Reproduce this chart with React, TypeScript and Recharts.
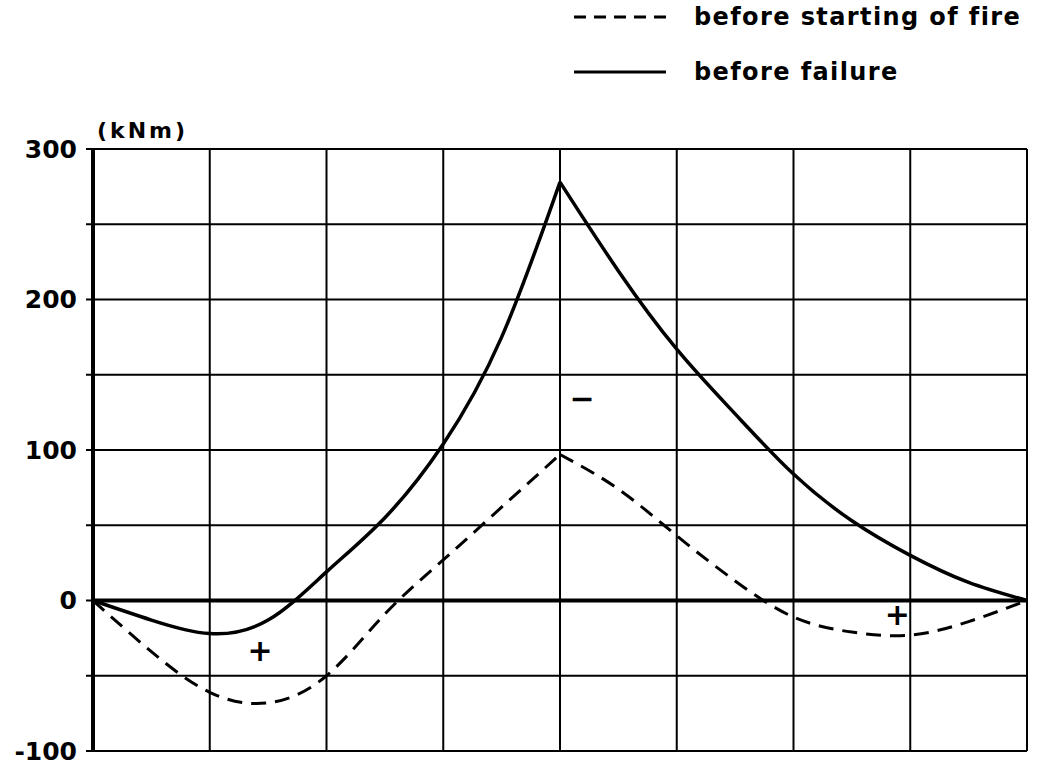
import React from 'react';
import {
  LineChart,
  Line,
  XAxis,
  YAxis,
  CartesianGrid,
  ReferenceLine,
  ReferenceDot,
} from 'recharts';

// span position (grid units along the beam) and moments in kNm
const positions = [0, 0.5, 1, 1.5, 2, 2.5, 3, 3.5, 4, 4.5, 5, 5.5, 6, 6.5, 7, 7.5, 8];
const beforeFailure = [0, -13, -22, -13, 19, 55, 104, 175, 278, 219, 167, 124, 84, 53, 30, 12, 0];
const beforeFire = [0, -34, -61, -68, -50, -9, 27, 62, 97, 74, 43, 13, -11, -21, -23, -14, 0];

const xTicks = [0, 1, 2, 3, 4, 5, 6, 7, 8];
const yTicks = [-100, -50, 0, 50, 100, 150, 200, 250, 300];
const yLabelled = [-100, 0, 100, 200, 300];

const signMarks = [
  { x: 1.43, y: -33, text: '+' },
  { x: 4.19, y: 134, text: '−' },
  { x: 6.89, y: -9, text: '+' },
];

const legendItems = [
  { label: 'before starting of fire', dashed: true },
  { label: 'before failure', dashed: false },
];

const FONT = '"DejaVu Sans", sans-serif';
const PEAK = 8; // index of the middle support (cusp)

const toPoints = (vals: number[], from: number, to: number) =>
  positions.slice(from, to + 1).map((x, i) => ({ x, y: vals[from + i] }));

const failureLeft = toPoints(beforeFailure, 0, PEAK);
const failureRight = toPoints(beforeFailure, PEAK, positions.length - 1);
const fireLeft = toPoints(beforeFire, 0, PEAK);
const fireRight = toPoints(beforeFire, PEAK, positions.length - 1);

function LegendBox() {
  return (
    <svg width={470} height={100} style={{ position: 'absolute', left: 570, top: 0 }}>
      {legendItems.map((item, i) => {
        const y = 17 + i * 55;
        return (
          <g key={item.label}>
            <line
              x1={4}
              x2={96}
              y1={y}
              y2={y}
              stroke="#000"
              strokeWidth={3}
              strokeDasharray={item.dashed ? '12 8' : undefined}
            />
            <text
              x={124}
              y={y + 8}
              fontFamily={FONT}
              fontSize={24}
              fontWeight="bold"
              letterSpacing={1.4}
              fill="#000"
            >
              {item.label}
            </text>
          </g>
        );
      })}
    </svg>
  );
}

export default function App() {
  return (
    <div style={{ position: 'absolute', left: 0, top: 0, width: 1039, height: 771, background: '#fff', fontFamily: FONT }}>
      <LegendBox />
      <div
        style={{
          position: 'absolute',
          left: 97,
          top: 118,
          fontSize: 22,
          fontWeight: 'bold',
          letterSpacing: 3,
          zIndex: 2,
        }}
      >
        (kNm)
      </div>
      <LineChart width={1039} height={771} margin={{ top: 149, right: 12, bottom: 20, left: 13 }}>
        <CartesianGrid stroke="#000" strokeWidth={2} />
        <XAxis
          type="number"
          dataKey="x"
          domain={[0, 8]}
          ticks={xTicks}
          interval={0}
          tickFormatter={() => ''}
          tickLine={false}
          height={0}
          axisLine={{ stroke: '#000', strokeWidth: 3 }}
        />
        <YAxis
          type="number"
          dataKey="y"
          domain={[-100, 300]}
          ticks={yTicks}
          interval={0}
          width={80}
          tickSize={7}
          tickMargin={9}
          tickFormatter={(v: number) => (yLabelled.includes(v) ? String(v) : '')}
          tick={{ fill: '#000', fontSize: 25, fontFamily: FONT, fontWeight: 'bold' }}
          tickLine={{ stroke: '#000', strokeWidth: 2 }}
          axisLine={{ stroke: '#000', strokeWidth: 4 }}
        />
        <ReferenceLine y={0} stroke="#000" strokeWidth={4} />
        <Line data={fireLeft} dataKey="y" type="natural" stroke="#000" strokeWidth={3} strokeDasharray="15 9" dot={false} isAnimationActive={false} />
        <Line data={fireRight} dataKey="y" type="natural" stroke="#000" strokeWidth={3} strokeDasharray="15 9" dot={false} isAnimationActive={false} />
        <Line data={failureLeft} dataKey="y" type="natural" stroke="#000" strokeWidth={3.5} dot={false} isAnimationActive={false} />
        <Line data={failureRight} dataKey="y" type="natural" stroke="#000" strokeWidth={3.5} dot={false} isAnimationActive={false} />
        {signMarks.map((m, i) => (
          <ReferenceDot
            key={i}
            x={m.x}
            y={m.y}
            r={0}
            stroke="none"
            label={{ value: m.text, position: 'center', fill: '#000', fontSize: 30, fontWeight: 'bold', fontFamily: FONT }}
          />
        ))}
      </LineChart>
    </div>
  );
}
